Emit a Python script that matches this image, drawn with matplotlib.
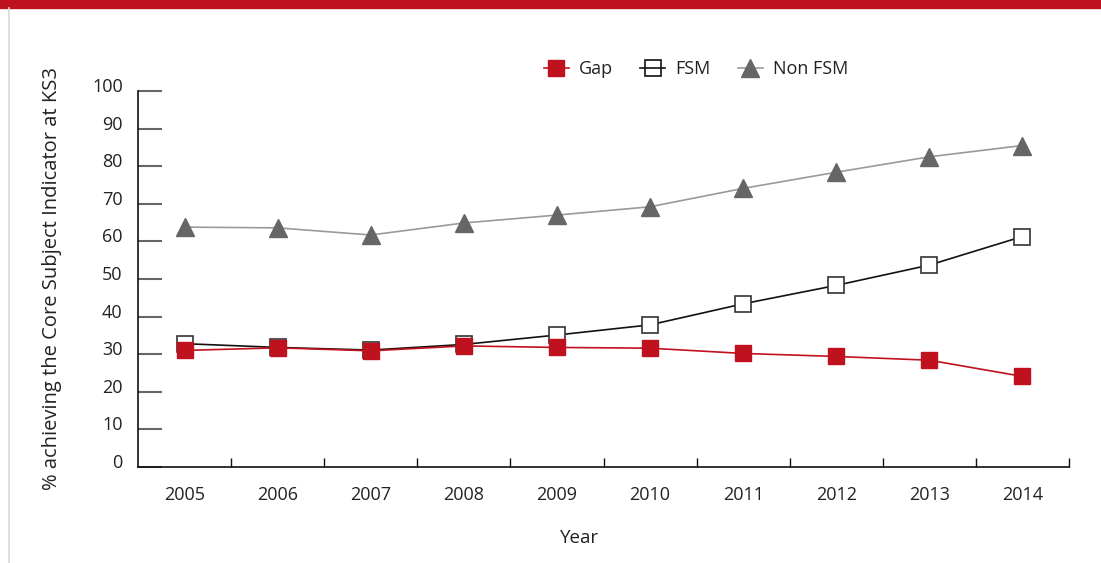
import matplotlib
matplotlib.use("Agg")
import matplotlib.pyplot as plt
from matplotlib.transforms import ScaledTranslation
from matplotlib.lines import Line2D

years = ["2005", "2006", "2007", "2008", "2009", "2010", "2011", "2012", "2013", "2014"]
gap = [31.0, 31.7, 30.9, 32.2, 31.8, 31.6, 30.2, 29.4, 28.4, 24.1]
fsm = [32.8, 31.8, 31.1, 32.6, 35.1, 37.8, 43.4, 48.3, 53.7, 61.3]
non_fsm = [63.8, 63.6, 61.7, 64.9, 67.0, 69.2, 74.1, 78.4, 82.5, 85.5]
yticks = [0, 10, 20, 30, 40, 50, 60, 70, 80, 90, 100]

RED = "#C0111F"
TXT = "#222222"
plt.rcParams['font.family'] = ['Open Sans', 'DejaVu Sans']

W, H = 1101, 563
fig = plt.figure(figsize=(W / 100, H / 100), dpi=100)

# top red band and left grey rule
fig.patches.append(plt.Rectangle((0, 1 - 8 / H), 1, 8 / H, transform=fig.transFigure,
                                 color=RED, zorder=0))
fig.add_artist(Line2D([9 / W, 9 / W], [0, 1 - 8 / H], transform=fig.transFigure,
                      color="#d9d9d9", lw=1.2))

ax = fig.add_axes([138 / W, 96 / H, (1069 - 138) / W, (467 - 91) / H])
x = list(range(len(years)))

ax.plot(x, non_fsm, color="#9a9a9a", lw=1.2, marker="^", ms=13,
        mfc="#666666", mec="#666666", zorder=2)
ax.plot(x, fsm, color="#111111", lw=1.2, marker="s", ms=11.5,
        mfc="white", mec="#333333", mew=1.2, zorder=3)
ax.plot(x, gap, color=RED, lw=1.2, marker="s", ms=12,
        mfc=RED, mec=RED, zorder=4)

ax.set_xlim(-0.5, len(years) - 0.5)
ax.set_ylim(0, 100)

for s in ["top", "right"]:
    ax.spines[s].set_visible(False)
for s in ["left", "bottom"]:
    ax.spines[s].set_color("#111111")
    ax.spines[s].set_linewidth(1.2)

ax.set_yticks(yticks)
ax.set_yticklabels([str(v) for v in yticks])
ax.tick_params(axis="y", direction="in", length=17, width=1.5, color="#666666",
               pad=11, labelsize=13, labelcolor=TXT)
for lab in ax.get_yticklabels():
    lab.set_transform(lab.get_transform() + ScaledTranslation(0, 6 / 100, fig.dpi_scale_trans))

ax.set_xticks([i + 0.5 for i in range(len(years))])
ax.set_xticklabels([])
ax.set_xticks(x, minor=True)
ax.set_xticklabels(years, minor=True)
ax.tick_params(axis="x", which="major", direction="in", length=6.5, width=1, color="#111111")
ax.tick_params(axis="x", which="minor", length=0, pad=14, labelsize=13, labelcolor=TXT)

fig.text(52 / W, 1 - 278 / H, "% achieving the Core Subject Indicator at KS3",
         rotation=90, ha="center", va="center", fontsize=14.5, color=TXT)
fig.text(580 / W, 1 - 538 / H, "Year", ha="center", va="center", fontsize=13.5, color=TXT)

handles = [
    Line2D([], [], color=RED, lw=1.2, marker="s", ms=12, mfc=RED, mec=RED),
    Line2D([], [], color="#111111", lw=1.2, marker="s", ms=11.5, mfc="none", mec="#111111", mew=1.2),
    Line2D([], [], color="#9a9a9a", lw=1.2, marker="^", ms=13, mfc="#666666", mec="#666666"),
]
leg = fig.legend(handles, ["Gap", "FSM", "Non FSM"], loc="center", ncol=3,
                 bbox_to_anchor=(696 / W, 1 - 69 / H), frameon=False, fontsize=13,
                 handlelength=1.4, handletextpad=0.55, columnspacing=1.5)
for t in leg.get_texts():
    t.set_color(TXT)

fig.savefig("out.png", dpi=100)
